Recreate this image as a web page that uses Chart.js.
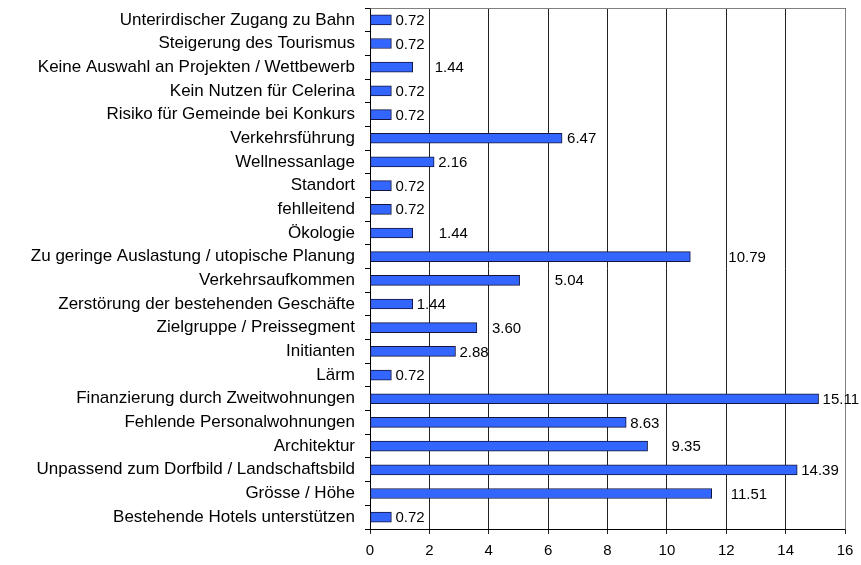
<!DOCTYPE html>
<html>
<head>
<meta charset="utf-8">
<script src="https://cdn.jsdelivr.net/npm/chart.js@4"></script>
<style>
  html, body { margin: 0; padding: 0; background: #ffffff; }
  canvas { display: block; }
</style>
</head>
<body>
<canvas id="c" width="861" height="565"></canvas>
<script>
const categories = [
  "Unterirdischer Zugang zu Bahn",
  "Steigerung des Tourismus",
  "Keine Auswahl an Projekten / Wettbewerb",
  "Kein Nutzen für Celerina",
  "Risiko für Gemeinde bei Konkurs",
  "Verkehrsführung",
  "Wellnessanlage",
  "Standort",
  "fehlleitend",
  "Ökologie",
  "Zu geringe Auslastung / utopische Planung",
  "Verkehrsaufkommen",
  "Zerstörung der bestehenden Geschäfte",
  "Zielgruppe / Preissegment",
  "Initianten",
  "Lärm",
  "Finanzierung durch Zweitwohnungen",
  "Fehlende Personalwohnungen",
  "Architektur",
  "Unpassend zum Dorfbild / Landschaftsbild",
  "Grösse / Höhe",
  "Bestehende Hotels unterstützen"
];
const values = [0.72, 0.72, 1.44, 0.72, 0.72, 6.47, 2.16, 0.72, 0.72, 1.44, 10.79, 5.04, 1.44, 3.60, 2.88, 0.72, 15.11, 8.63, 9.35, 14.39, 11.51, 0.72];
const xTicks = [0, 2, 4, 6, 8, 10, 12, 14, 16];

// style: gap (px) between bar end and its value label, as placed in the original
const labelGaps = [4, 4, 22, 4, 4, 5, 4, 4, 4, 26, 38, 35, 4, 15, 4, 4, 4, 4, 24, 4, 19, 4];

const FONT = "'Liberation Sans', Arial, sans-serif";

const valueLabels = {
  id: 'valueLabels',
  afterDatasetsDraw(chart) {
    const ctx = chart.ctx;
    const meta = chart.getDatasetMeta(0);
    ctx.save();
    ctx.font = "15px " + FONT;
    ctx.fillStyle = '#000';
    ctx.textAlign = 'left';
    ctx.textBaseline = 'middle';
    meta.data.forEach((bar, i) => {
      ctx.fillText(values[i].toFixed(2), bar.x + labelGaps[i], bar.y + 1);
    });
    ctx.restore();
  }
};

const frame = {
  id: 'frame',
  beforeDatasetsDraw(chart) {
    const a = chart.chartArea;
    const ctx = chart.ctx;
    ctx.save();
    ctx.strokeStyle = '#808080';
    ctx.lineWidth = 1;
    ctx.beginPath();
    ctx.moveTo(Math.round(a.left) + 0.5, Math.round(a.top) + 0.5);
    ctx.lineTo(Math.round(a.right) + 0.5, Math.round(a.top) + 0.5);
    ctx.lineTo(Math.round(a.right) + 0.5, Math.round(a.bottom) + 0.5);
    ctx.stroke();
    ctx.restore();
  }
};

new Chart(document.getElementById('c'), {
  type: 'bar',
  data: {
    labels: categories,
    datasets: [{
      data: values,
      backgroundColor: '#3366ff',
      borderColor: '#14143c',
      borderWidth: 1,
      borderSkipped: false,
      barThickness: 10
    }]
  },
  options: {
    indexAxis: 'y',
    responsive: false,
    animation: false,
    layout: { padding: { top: 8, right: 16, bottom: 0, left: 0 } },
    plugins: {
      legend: { display: false },
      tooltip: { enabled: false }
    },
    scales: {
      x: {
        type: 'linear',
        min: 0,
        max: 16,
        afterBuildTicks(s) { s.ticks = xTicks.map(v => ({ value: v })); },
        afterFit(s) { s.height = 36; s.paddingLeft = 0; s.paddingRight = 0; },
        grid: { color: '#222', lineWidth: 1, tickLength: 5, drawTicks: true },
        border: { display: true, color: '#000', width: 1 },
        ticks: {
          color: '#000',
          font: { family: FONT, size: 15 },
          padding: 8,
          maxRotation: 0
        }
      },
      y: {
        type: 'category',
        afterFit(s) { s.width = 370; s.paddingTop = 0; s.paddingBottom = 0; },
        grid: { drawOnChartArea: false, drawTicks: true, tickLength: 5, color: '#000', offset: true },
        border: { display: true, color: '#000', width: 1 },
        ticks: {
          color: '#000',
          font: { family: FONT, size: 17 },
          padding: 10,
          autoSkip: false
        }
      }
    }
  },
  plugins: [frame, valueLabels]
});
</script>
</body>
</html>
